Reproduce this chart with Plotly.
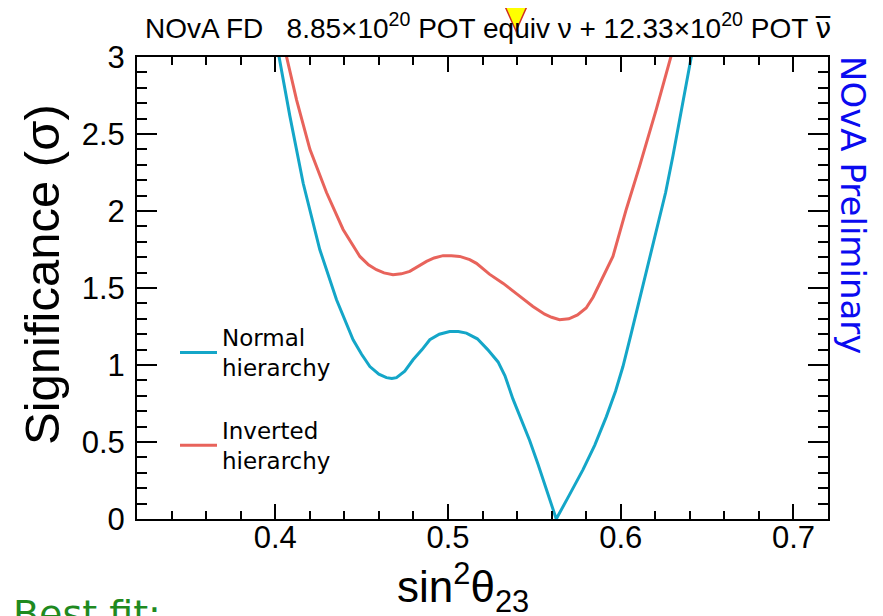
import plotly.graph_objects as go

# ---- data ----
nh_x = [0.3990, 0.4023, 0.4085, 0.4162, 0.4258, 0.4355, 0.4451, 0.4500, 0.4548, 0.4600,
        0.4644, 0.4675, 0.4702, 0.4750, 0.4798, 0.4850, 0.4895, 0.4950, 0.5010, 0.5060,
        0.5107, 0.5170, 0.5230, 0.5290, 0.5330, 0.5376, 0.5430, 0.5473, 0.5520, 0.5570,
        0.5627, 0.5700, 0.5781, 0.5850, 0.5917, 0.5970, 0.6013, 0.6060, 0.6109, 0.6160,
        0.6206, 0.6260, 0.6302, 0.6360, 0.6408, 0.6430]
nh_y = [3.20, 3.00, 2.616, 2.18, 1.75, 1.424, 1.164, 1.07, 0.99, 0.94,
        0.918, 0.912, 0.918, 0.96, 1.034, 1.10, 1.164, 1.20, 1.218, 1.218,
        1.207, 1.17, 1.10, 1.02, 0.93, 0.78, 0.63, 0.51, 0.36, 0.19,
        0.00, 0.15, 0.319, 0.48, 0.665, 0.83, 0.99, 1.20, 1.424, 1.65,
        1.858, 2.12, 2.356, 2.72, 3.00, 3.13]

ih_x = [0.4050, 0.4066, 0.4124, 0.4201, 0.4297, 0.4393, 0.4490, 0.4540, 0.4586, 0.4630,
        0.4682, 0.4730, 0.4779, 0.4830, 0.4876, 0.4920, 0.4972, 0.5020, 0.5068, 0.5126,
        0.5165, 0.5240, 0.5320, 0.5400, 0.5492, 0.5560, 0.5600, 0.5646, 0.5700, 0.5750,
        0.5800, 0.5840, 0.5878, 0.5955, 0.6032, 0.6109, 0.6206, 0.6292, 0.6310]
ih_y = [3.12, 3.00, 2.72, 2.40, 2.12, 1.88, 1.705, 1.65, 1.619, 1.598,
        1.586, 1.592, 1.608, 1.64, 1.673, 1.695, 1.71, 1.71, 1.705, 1.684,
        1.66, 1.59, 1.53, 1.46, 1.38, 1.33, 1.31, 1.294, 1.30, 1.325,
        1.37, 1.44, 1.53, 1.705, 2.01, 2.29, 2.66, 3.00, 3.08]

series_names = ["Normal<br>hierarchy", "Inverted<br>hierarchy"]
x_ticks = [0.4, 0.5, 0.6, 0.7]
y_ticks = [0, 0.5, 1, 1.5, 2, 2.5, 3]
y_tick_text = ["0", "0.5", "1", "1.5", "2", "2.5", "3"]

FONT = "Liberation Sans, Arial, sans-serif"
WIDE = "DejaVu Sans, Liberation Sans, sans-serif"
BLUE = "#14a6c8"
RED = "#e8635b"

fig = go.Figure()
fig.add_trace(go.Scatter(x=nh_x, y=nh_y, mode="lines", name=series_names[0],
                         legendgroup="nh",
                         line=dict(color=BLUE, width=3)))
fig.add_trace(go.Scatter(x=ih_x, y=ih_y, mode="lines", name=series_names[1],
                         legendgroup="ih",
                         line=dict(color=RED, width=3)))

# page is offset by the 8px body margin; work in page pixels
OFF = 8
PW, PH = 883, 616
W, H = PW - OFF, PH - OFF
PL, PR, PT, PB = 137, 828, 57, 519       # plot area in page pixels
L, T = PL - OFF, PT - OFF
R = W - (PR - OFF)
B = H - (PB - OFF)

def px(xp):
    return (xp - PL) / (PR - PL)

def py(yp):
    return (PB - yp) / (PB - PT)

fig.update_layout(
    width=W, height=H,
    margin=dict(l=L, r=R, t=T, b=B, autoexpand=False),
    paper_bgcolor="white", plot_bgcolor="white",
    font=dict(family=FONT, color="black"),
    showlegend=True,
    legend=dict(x=px(175), y=py(316), xanchor="left", yanchor="top",
                bgcolor="rgba(0,0,0,0)", font=dict(size=23, family=WIDE, color="black"),
                tracegroupgap=30, traceorder="grouped", valign="middle",
                itemwidth=37),
)

fig.update_xaxes(
    range=[0.32, 0.72], tickmode="array", tickvals=x_ticks,
    ticktext=[str(v) for v in x_ticks],
    ticks="inside", ticklen=15, tickwidth=1.5, tickcolor="black",
    minor=dict(ticks="inside", ticklen=8, dtick=0.02, tick0=0.32, tickcolor="black", tickwidth=1.5),
    showline=True, linecolor="black", linewidth=2, mirror="ticks",
    showgrid=False, zeroline=False, automargin=False,
    tickfont=dict(size=31, family=FONT), ticklabelstandoff=-10,
)
fig.update_yaxes(
    range=[0, 3], tickmode="array", tickvals=y_ticks, ticktext=y_tick_text,
    ticks="inside", ticklen=20, tickwidth=1.5, tickcolor="black",
    minor=dict(ticks="inside", ticklen=10, dtick=0.1, tick0=0, tickcolor="black", tickwidth=1.5),
    showline=True, linecolor="black", linewidth=2, mirror="ticks",
    showgrid=False, zeroline=False, automargin=False,
    tickfont=dict(size=31, family=FONT), ticklabelstandoff=4,
)

# Header text
fig.add_annotation(
    xref="paper", yref="paper", x=px(143), y=py(26), xanchor="left", yanchor="middle",
    text="NOvA FD&nbsp;&nbsp; 8.85×10<sup>20</sup> POT equiv ν + 12.33×10<sup>20</sup> POT "
         "<span style=\"font-family:DejaVu Sans\">ν&#773;</span>",
    showarrow=False, font=dict(size=28, family=FONT, color="black"),
)
# Y axis title
fig.add_annotation(
    xref="paper", yref="paper", x=px(42), y=py(275), xanchor="center", yanchor="middle",
    text="Significance (σ)", textangle=-90, showarrow=False,
    font=dict(size=49, family=FONT, color="black"),
)
# X axis title
fig.add_annotation(
    xref="paper", yref="paper", x=px(463), y=py(587), xanchor="center", yanchor="middle",
    text="sin<sup>2</sup>θ<sub>23</sub>", showarrow=False,
    font=dict(size=44, family=FONT, color="black"),
)
# NOvA Preliminary
fig.add_annotation(
    xref="paper", yref="paper", x=px(853), y=py(205), xanchor="center", yanchor="middle",
    text="NOvA Preliminary", textangle=90, showarrow=False,
    font=dict(size=34, family=WIDE, color="#0a0af0"),
)
# Partially visible slide text
fig.add_annotation(
    xref="paper", yref="paper", x=px(11), y=py(590), xanchor="left", yanchor="top",
    text="Best fit:", showarrow=False,
    font=dict(size=38, family=WIDE, color="#1f8a1f"),
)
# Decorative yellow marker at top
fig.add_shape(
    type="path", xref="paper", yref="paper",
    path=f"M {px(504)} {py(4)} L {px(528)} {py(4)} L {px(516)} {py(31)} Z",
    fillcolor="#ffff00", line=dict(color="#d03020", width=1.5), layer="above",
)

fig.write_html("out.html")
